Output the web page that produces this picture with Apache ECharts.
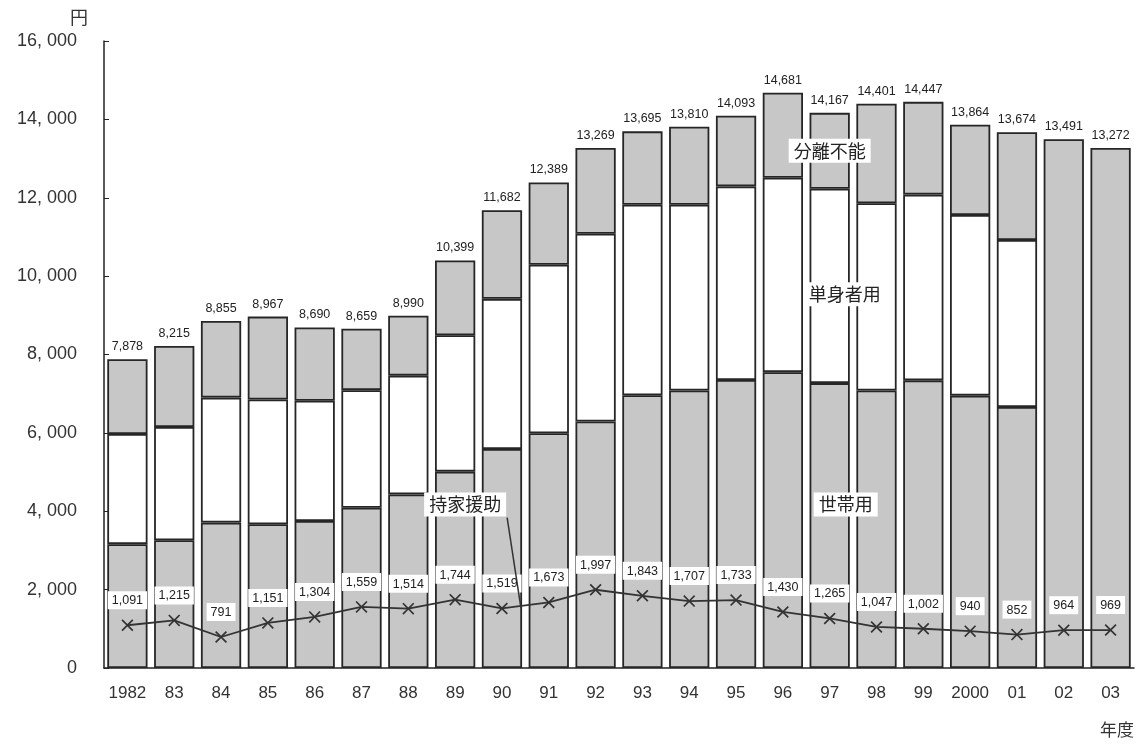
<!DOCTYPE html>
<html>
<head>
<meta charset="utf-8">
<script src="https://cdn.jsdelivr.net/npm/echarts@6/dist/echarts.min.js"></script>
<style>
html,body{margin:0;padding:0;background:#fff;}
#chart{width:1138px;height:747px;}
</style>
</head>
<body>
<div id="chart"></div>
<script>
const years = ['1982','83','84','85','86','87','88','89','90','91','92','93','94','95','96','97','98','99','2000','01','02','03'];
const household = [3160,3260,3710,3670,3750,4090,4430,5010,5590,5990,6290,6960,7080,7350,7550,7270,7080,7340,6950,6660,null,null];
const single = [2810,2890,3190,3180,3070,3000,3030,3480,3830,4300,4790,4860,4740,4940,4960,4960,4780,4740,4610,4260,null,null];
const inseparable = [1908,2065,1955,2117,1870,1569,1530,1909,2262,2099,2189,1875,1990,1803,2171,1937,2541,2367,2304,2754,13491,13272];
const totals = [7878,8215,8855,8967,8690,8659,8990,10399,11682,12389,13269,13695,13810,14093,14681,14167,14401,14447,13864,13674,13491,13272];
const ownHome = [1091,1215,791,1151,1304,1559,1514,1744,1519,1673,1997,1843,1707,1733,1430,1265,1047,1002,940,852,964,969];
const yTicks = [0,2000,4000,6000,8000,10000,12000,14000,16000];

const fmtComma = v => String(v).replace(/\B(?=(\d{3})+(?!\d))/g, ',');
const fmtAxis = v => String(v).replace(/\B(?=(\d{3})+(?!\d))/g, ', ');

const dotted = '#c7c7c7';
const border = '#262626';
const jp = '"Noto Sans CJK JP", "Noto Sans", sans-serif';
const sans = '"Liberation Sans", Arial, sans-serif';

const chart = echarts.init(document.getElementById('chart'));
const barCommon = {
  type: 'bar', stack: 'total', barCategoryGap: '14%',
  emphasis: { disabled: true }
};
chart.setOption({
  animation: false,
  backgroundColor: '#fff',
  grid: { left: 104, right: 4, top: 41, bottom: 79 },
  xAxis: {
    type: 'category', data: years,
    axisLine: { lineStyle: { color: '#222', width: 1.5 } },
    axisTick: { show: false },
    axisLabel: { interval: 0, color: '#333', fontSize: 17, fontFamily: sans, margin: 17 }
  },
  yAxis: {
    type: 'value', min: 0, max: 16000, interval: 2000,
    axisLine: { show: true, lineStyle: { color: '#222', width: 1.5 } },
    axisTick: { show: true, inside: true, length: 5, lineStyle: { color: '#222' } },
    splitLine: { show: false },
    axisLabel: { color: '#333', fontSize: 18, fontFamily: sans, margin: 27,
      formatter: v => yTicks.includes(v) ? fmtAxis(v) : '' }
  },
  series: [
    Object.assign({}, barCommon, { name: '世帯用', data: household, itemStyle: { color: dotted, borderColor: border, borderWidth: 1.8 } }),
    Object.assign({}, barCommon, { name: '単身者用', data: single, itemStyle: { color: '#ffffff', borderColor: border, borderWidth: 1.8 } }),
    Object.assign({}, barCommon, { name: '分離不能', data: inseparable, itemStyle: { color: dotted, borderColor: border, borderWidth: 1.8 },
      label: { show: true, position: 'top', distance: 6, color: '#222', fontSize: 12.5, fontFamily: sans,
        formatter: p => fmtComma(totals[p.dataIndex]) } }),
    {
      name: '持家援助', type: 'line', data: ownHome, z: 5,
      symbol: 'path://M0,1 L1,0 L5,4 L9,0 L10,1 L6,5 L10,9 L9,10 L5,6 L1,10 L0,9 L4,5 Z',
      symbolSize: 12,
      itemStyle: { color: '#333' },
      lineStyle: { color: '#333', width: 1.8 },
      label: { show: true, position: 'top', distance: 10, color: '#222', fontSize: 12.5,
        fontFamily: sans,
        backgroundColor: '#fff', padding: [3, 4, 2, 4],
        formatter: p => fmtComma(p.value) },
      emphasis: { disabled: true }
    }
  ]
});

function px(cat, val) { return chart.convertToPixel({ xAxisIndex: 0, yAxisIndex: 0 }, [cat, val]); }
function annot(text, cx, cy) {
  return {
    type: 'text', x: cx, y: cy, z: 100,
    style: { text: text, font: '18px ' + jp, fill: '#222', align: 'center', verticalAlign: 'middle',
      backgroundColor: '#fff', padding: [3, 5, 3, 5] }
  };
}
const p1 = px('97', 13200);
const p2 = px('97', 9540);
const p3 = px('97', 4170);
const pA = px('89', 4170);
const pB = px('90', 1580);
chart.setOption({
  graphic: [
    { type: 'text', left: 70, top: 8, style: { text: '円', font: '18px ' + jp, fill: '#333' } },
    { type: 'text', right: 4, top: 721, style: { text: '年度', font: '17px ' + jp, fill: '#333' } },
    annot('分離不能', p1[0], p1[1]),
    annot('単身者用', p2[0] + 15, p2[1]),
    annot('世帯用', p3[0] + 16, p3[1]),
    annot('持家援助', pA[0] + 10, pA[1]),
    { type: 'line', z: 99, shape: { x1: pA[0] + 52, y1: pA[1] + 13, x2: pB[0] + 19, y2: pB[1] + 2 },
      style: { stroke: '#333', lineWidth: 1.5 } }
  ]
});
</script>
</body>
</html>
